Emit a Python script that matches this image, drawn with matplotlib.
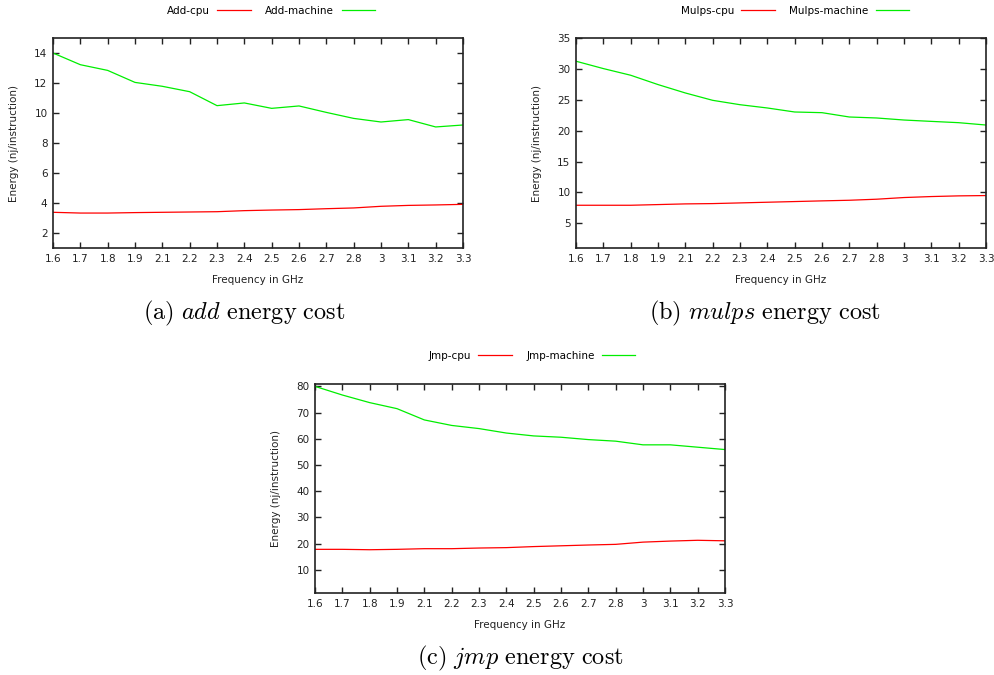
import matplotlib
matplotlib.use("Agg")
import matplotlib.pyplot as plt
import numpy as np

freq_labels = ["1.6", "1.7", "1.8", "1.9", "2.1", "2.2", "2.3", "2.4",
               "2.5", "2.6", "2.7", "2.8", "3", "3.1", "3.2", "3.3"]

add_cpu = [3.38, 3.33, 3.33, 3.36, 3.38, 3.40, 3.42, 3.49,
           3.53, 3.56, 3.62, 3.67, 3.78, 3.84, 3.87, 3.91]
add_machine = [14.0, 13.22, 12.84, 12.04, 11.78, 11.42, 10.49, 10.67,
               10.31, 10.47, 10.04, 9.64, 9.40, 9.56, 9.07, 9.20]

mulps_cpu = [7.92, 7.92, 7.92, 8.03, 8.14, 8.19, 8.30, 8.41,
             8.52, 8.63, 8.73, 8.90, 9.17, 9.33, 9.44, 9.49]
mulps_machine = [31.24, 30.05, 28.97, 27.46, 26.10, 24.91, 24.20, 23.67,
                 23.02, 22.91, 22.21, 22.05, 21.72, 21.50, 21.29, 20.91]

jmp_cpu = [17.85, 17.85, 17.7, 17.85, 18.1, 18.1, 18.35, 18.5,
           18.9, 19.2, 19.5, 19.75, 20.6, 21.0, 21.3, 21.1]
jmp_machine = [80.0, 76.7, 73.8, 71.5, 67.2, 65.1, 63.9, 62.2,
               61.1, 60.6, 59.7, 59.1, 57.7, 57.7, 56.8, 55.9]

W, H = 995, 675
fig = plt.figure(figsize=(W / 100, H / 100), dpi=100)

plt.rcParams['mathtext.fontset'] = 'cm'

panels = [
    dict(box=(53, 38, 463, 248), cpu=add_cpu, mach=add_machine,
         names=("Add-cpu", "Add-machine"), ylim=(1, 15), yticks=range(2, 15, 2),
         legend=(271, 11), caption=(244, 313, r"$\mathrm{(a)}\ \mathit{add}\ \mathrm{energy\ cost}$")),
    dict(box=(576, 38, 986, 248), cpu=mulps_cpu, mach=mulps_machine,
         names=("Mulps-cpu", "Mulps-machine"), ylim=(1, 35), yticks=range(5, 36, 5),
         legend=(795, 11), caption=(765, 313, r"$\mathrm{(b)}\ \mathit{mulps}\ \mathrm{energy\ cost}$")),
    dict(box=(315, 384, 725, 593), cpu=jmp_cpu, mach=jmp_machine,
         names=("Jmp-cpu", "Jmp-machine"), ylim=(1.2, 80.9), yticks=range(10, 81, 10),
         legend=(532, 356), caption=(520, 658, r"$\mathrm{(c)}\ \mathit{jmp}\ \mathrm{energy\ cost}$")),
]

x = np.arange(len(freq_labels))
for p in panels:
    l, t, r, b = p["box"]
    ax = fig.add_axes([l / W, (H - b) / H, (r - l) / W, (b - t) / H])
    ax.plot(x, p["cpu"], color="#ff0000", lw=0.9, label=p["names"][0])
    ax.plot(x, p["mach"], color="#00ee00", lw=0.9, label=p["names"][1])
    ax.set_xlim(0, len(freq_labels) - 1)
    ax.set_ylim(*p["ylim"])
    ax.set_xticks(x)
    ax.set_xticklabels(freq_labels)
    ax.set_yticks(list(p["yticks"]))
    ax.tick_params(direction="in", length=4, width=1, top=True, right=True,
                   labelsize=7.5, colors="#222222", pad=4)
    for s in ax.spines.values():
        s.set_linewidth(1.2)
        s.set_color("#222222")
    ax.set_ylabel("Energy (nj/instruction)", fontsize=7.5, color="#222222")
    ax.yaxis.set_label_coords(-0.082, 0.5)
    ax.set_xlabel("Frequency in GHz", fontsize=7.5, color="#222222")
    ax.xaxis.set_label_coords(0.5, -0.129)
    lx, ly = p["legend"]
    fig.legend(handles=ax.get_lines(), loc="center",
               bbox_to_anchor=(lx / W, 1 - ly / H), ncol=2, frameon=False,
               markerfirst=False, fontsize=7.5, handlelength=3.2,
               columnspacing=1.4, handletextpad=0.7)
    cx, cy, txt = p["caption"]
    fig.text(cx / W, 1 - cy / H, txt, ha="center", va="center", fontsize=17.5)

fig.savefig("out.png", dpi=100)
